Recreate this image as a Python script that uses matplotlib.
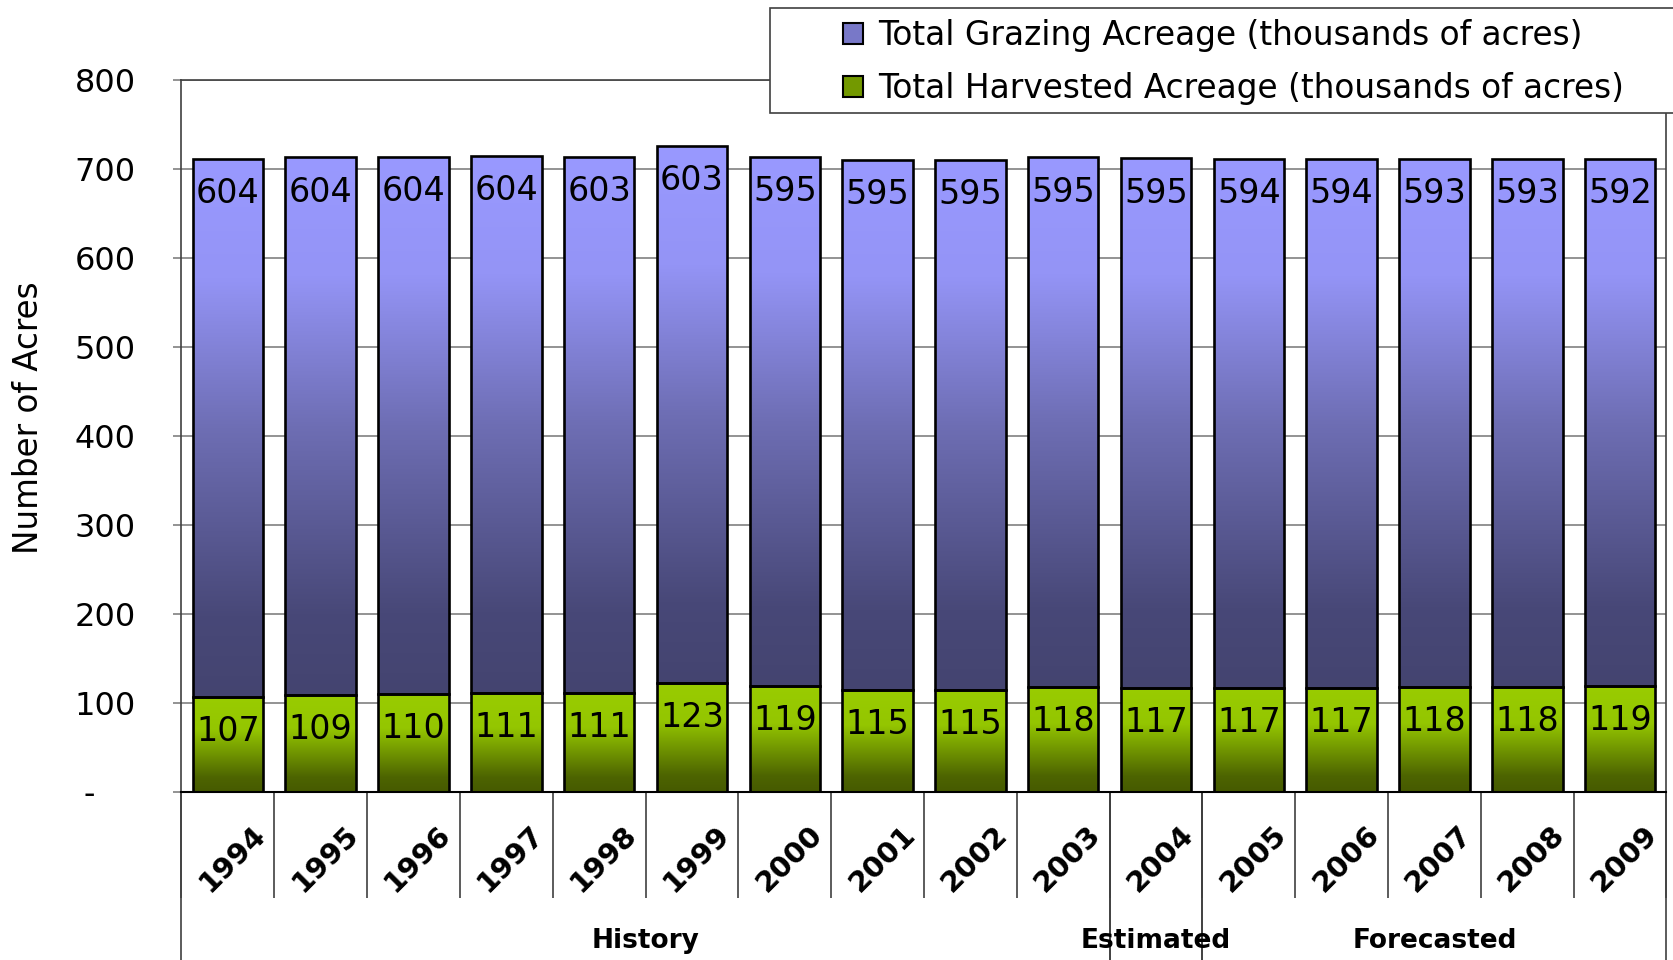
import numpy as np
import matplotlib.pyplot as plt
from matplotlib.colors import LinearSegmentedColormap
from matplotlib.patches import Patch, Rectangle

# acreage data (thousands of acres)
years = ["1994", "1995", "1996", "1997", "1998", "1999", "2000", "2001",
         "2002", "2003", "2004", "2005", "2006", "2007", "2008", "2009"]
harvested = [107, 109, 110, 111, 111, 123, 119, 115, 115, 118, 117, 117, 117, 118, 118, 119]
grazing = [604, 604, 604, 604, 603, 603, 595, 595, 595, 595, 595, 594, 594, 593, 593, 592]

# period groups: (name, first year, last year)
groups = [("History", "1994", "2003"), ("Estimated", "2004", "2004"), ("Forecasted", "2005", "2009")]

plt.rcParams["font.family"] = ["DejaVu Sans"]

purple_cmap = LinearSegmentedColormap.from_list(
    "purple", [(0.0, "#444470"), (0.15, "#484878"), (0.5, "#6e6eb4"), (0.78, "#9494f6"), (1.0, "#9999ff")])
green_cmap = LinearSegmentedColormap.from_list(
    "green", [(0.0, "#465a00"), (0.15, "#4d6400"), (0.65, "#94c600"), (1.0, "#99cc00")])

fig = plt.figure(figsize=(16.74, 9.6), dpi=100)
ax = fig.add_axes([181.5 / 1674, 1 - 792 / 960, (1666.5 - 181.5) / 1674, (792 - 80) / 960])

x = np.arange(len(years))
width = 0.76
grad = np.linspace(0, 1, 256).reshape(-1, 1)


def gradient_bars(bars, cmap):
    for b in bars:
        x0, y0 = b.get_x(), b.get_y()
        im = ax.imshow(grad, extent=[x0, x0 + b.get_width(), y0, y0 + b.get_height()],
                       origin="lower", aspect="auto", cmap=cmap, zorder=2)
        im.set_clip_path(b)


bars_h = ax.bar(x, harvested, width, facecolor="none", edgecolor="black", linewidth=1.9, zorder=3)
bars_g = ax.bar(x, grazing, width, bottom=harvested, facecolor="none", edgecolor="black",
                linewidth=1.9, zorder=3)
gradient_bars(bars_h, green_cmap)
gradient_bars(bars_g, purple_cmap)

# value labels near the top inside each segment
for i in range(len(years)):
    ax.annotate(str(harvested[i]), (x[i], harvested[i]), xytext=(0, -25), textcoords="offset points",
                ha="center", va="center", fontsize=24, zorder=4)
    ax.annotate(str(grazing[i]), (x[i], harvested[i] + grazing[i]), xytext=(0, -25),
                textcoords="offset points", ha="center", va="center", fontsize=24, zorder=4)

ax.set_xlim(-0.5, len(years) - 0.5)
ax.set_ylim(0, 800)
ax.set_yticks(range(0, 801, 100))
ax.set_yticklabels(["-    "] + [str(v) for v in range(100, 801, 100)])
ax.yaxis.grid(True, color="#808080", linewidth=1.2)
ax.set_axisbelow(True)
ax.tick_params(axis="y", length=6, width=1.2, color="#808080", labelsize=23, pad=27)
ax.tick_params(axis="x", length=0, labelbottom=False)
ax.set_ylabel("Number of Acres", fontsize=23.5)
ax.yaxis.set_label_coords(-0.092, 0.526)

for s in ["left", "top", "right"]:
    ax.spines[s].set_color("#404040")
    ax.spines[s].set_linewidth(1.2)
ax.spines["bottom"].set_color("black")
ax.spines["bottom"].set_linewidth(1.5)

# category axis: year labels, separators and period groups
xt = ax.get_xaxis_transform()
for i, yr in enumerate(years):
    ax.text(x[i] + 0.05, -0.094, yr, transform=xt, rotation=45, ha="center", va="center",
            fontsize=21, fontweight="bold")
ax.vlines(np.arange(len(years) + 1) - 0.5, -0.149, 0, transform=xt, colors="#404040",
          linewidth=1.2, clip_on=False)
for name, first, last in groups:
    a, b = years.index(first), years.index(last)
    ax.vlines([a - 0.5, b + 0.5], -0.24, 0, transform=xt, colors="#404040", linewidth=1.2, clip_on=False)
    ax.text((a + b) / 2, -0.209, name, transform=xt, ha="center", va="center",
            fontsize=19, fontweight="bold")

# legend with a box that runs off the right edge
fig.patches.append(Rectangle((770 / 1674, 1 - 113 / 960), 0.6, 105.5 / 960, transform=fig.transFigure,
                             facecolor="white", edgecolor="#404040", linewidth=1.2, zorder=5))
handles = [Patch(facecolor="#7878c8", edgecolor="black", linewidth=1.5),
           Patch(facecolor="#739900", edgecolor="black", linewidth=1.5)]
leg = fig.legend(handles, ["Total Grazing Acreage (thousands of acres)",
                           "Total Harvested Acreage (thousands of acres)"],
                 loc="upper left", bbox_to_anchor=(843 / 1674, 1 - 19 / 960), frameon=False,
                 fontsize=23.6, handlelength=0.6, handleheight=0.6, handletextpad=0.46,
                 labelspacing=0.6, borderpad=0, borderaxespad=0)
leg.set_zorder(6)

fig.savefig("out.png", dpi=100)
